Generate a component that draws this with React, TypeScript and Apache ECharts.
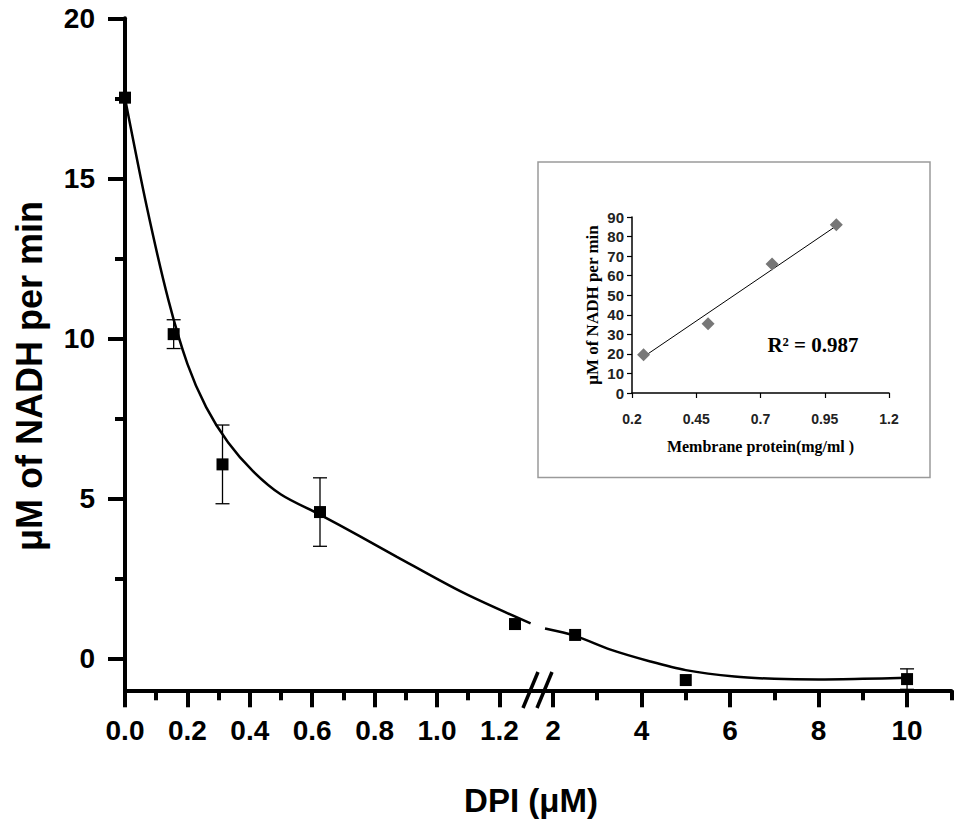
import React, { useEffect, useRef } from "react";
import * as echarts from "echarts";

// ---- Main chart data (DPI µM vs µM NADH per min) ----
const dpiLeft = [0, 0.156, 0.3125, 0.625, 1.25];
const rateLeft = [17.52, 10.13, 6.06, 4.57, 1.07];
const dpiRight = [2.5, 5, 10];
const rateRight = [0.73, -0.68, -0.65];
// error bars: [x, y, error]
const errLeft = [
  [0.156, 10.13, 0.45],
  [0.3125, 6.06, 1.23],
  [0.625, 4.57, 1.07],
];
const errRight = [[10, -0.65, 0.32]];
// fitted curve
const curveLeftX = [0, 0.07, 0.139, 0.2, 0.26, 0.33, 0.41, 0.5, 0.623, 0.752, 0.87, 1.084, 1.3];
const curveLeftY = [17.5, 14.1, 11.2, 9.2, 7.85, 6.75, 5.85, 5.12, 4.5, 3.82, 3.18, 2.05, 1.09];
const curveRightX = [1.82, 2.5, 3.3, 4.2, 5.0, 6.1, 7.0, 8.0, 9.0, 10.0];
const curveRightY = [0.93, 0.7, 0.27, -0.1, -0.37, -0.57, -0.64, -0.66, -0.64, -0.61];

// ticks
const yMajor = [0, 5, 10, 15, 20];
const yMinor = [2.5, 7.5, 12.5, 17.5];
const xLeftMajor = [0, 0.2, 0.4, 0.6, 0.8, 1.0, 1.2];
const xLeftMinor = [0.1, 0.3, 0.5, 0.7, 0.9, 1.1];
const xRightMajor = [2, 4, 6, 8, 10];
const xRightMinor = [3, 5, 7, 9, 11];

// ---- Inset data ----
const protein = [0.245, 0.496, 0.745, 0.995];
const nadhInset = [19.5, 35.4, 66, 86];
const trendX = [0.245, 0.99];
const trendY = [18.5, 85];
const insetXTicks = [0.2, 0.45, 0.7, 0.95, 1.2];

const SANS = "Liberation Sans, Arial, sans-serif";
const SERIF = "Liberation Serif, Times New Roman, serif";

export default function App() {
  const ref = useRef<HTMLDivElement>(null);
  useEffect(() => {
    if (!ref.current) return;
    const chart = echarts.init(ref.current, null, { renderer: "svg" });

    const G0 = { left: 125, top: 18.3, width: 405.6, height: 672 };
    const G1 = { left: 530.6, top: 18.3, width: 420.7, height: 672 };
    const GI = { left: 632, top: 217, width: 257, height: 176 };

    const axisLine = { show: true, onZero: false, lineStyle: { color: "#000", width: 4, cap: "round" } };
    const noLine = { show: false, onZero: false };
    const majorLabel = {
      color: "#000",
      fontFamily: SANS,
      fontWeight: "bold",
      fontSize: 28,
    };

    const errRender = (params: any, api: any) => {
      const x = api.value(0);
      const y = api.value(1);
      const e = api.value(2);
      const top = api.coord([x, y + e]);
      const bot = api.coord([x, y - e]);
      const hw = 7;
      const style = { stroke: "#000", lineWidth: 1.3 };
      return {
        type: "group",
        children: [
          { type: "line", shape: { x1: top[0], y1: top[1], x2: bot[0], y2: bot[1] }, style },
          { type: "line", shape: { x1: top[0] - hw, y1: top[1], x2: top[0] + hw, y2: top[1] }, style },
          { type: "line", shape: { x1: bot[0] - hw, y1: bot[1], x2: bot[0] + hw, y2: bot[1] }, style },
        ],
      };
    };

    const zip = (a: number[], b: number[]) => a.map((v, i) => [v, b[i]]);

    chart.setOption({
      animation: false,
      backgroundColor: "#fff",
      grid: [
        { ...G0, containLabel: false },
        { ...G1, containLabel: false },
        { ...G0, containLabel: false },
        { ...G1, containLabel: false },
        { ...GI, containLabel: false },
      ],
      xAxis: [
        {
          type: "value", gridIndex: 0, min: 0, max: 1.3, position: "bottom",
          axisLine, splitLine: { show: false },
          axisTick: { show: true, length: 17, lineStyle: { width: 4, color: "#000" }, customValues: xLeftMajor },
          axisLabel: { ...majorLabel, margin: 26, customValues: xLeftMajor, formatter: (v: number) => v.toFixed(1) },
        },
        {
          type: "value", gridIndex: 1, min: 1.494, max: 11, position: "bottom",
          axisLine, splitLine: { show: false },
          axisTick: { show: true, length: 17, lineStyle: { width: 4, color: "#000" }, customValues: xRightMajor },
          axisLabel: { ...majorLabel, margin: 26, customValues: xRightMajor, formatter: (v: number) => String(v) },
        },
        {
          type: "value", gridIndex: 2, min: 0, max: 1.3, position: "bottom",
          axisLine: noLine, splitLine: { show: false },
          axisTick: { show: true, length: 10, lineStyle: { width: 4, color: "#000" }, customValues: xLeftMinor },
          axisLabel: { show: false },
        },
        {
          type: "value", gridIndex: 3, min: 1.494, max: 11, position: "bottom",
          axisLine: noLine, splitLine: { show: false },
          axisTick: { show: true, length: 10, lineStyle: { width: 4, color: "#000" }, customValues: xRightMinor },
          axisLabel: { show: false },
        },
        {
          type: "value", gridIndex: 4, min: 0.2, max: 1.2, position: "bottom",
          axisLine: { show: true, onZero: false, lineStyle: { color: "#000", width: 1.5 } },
          splitLine: { show: false },
          axisTick: { show: true, length: 5, lineStyle: { color: "#000", width: 1.2 }, customValues: insetXTicks },
          axisLabel: {
            customValues: insetXTicks, color: "#222", fontFamily: SANS, fontWeight: "bold", fontSize: 14, margin: 19,
            formatter: (v: number) => String(v),
          },
          name: "Membrane protein(mg/ml )",
          nameLocation: "middle",
          nameGap: 45,
          nameTextStyle: { color: "#000", fontFamily: SERIF, fontWeight: "bold", fontSize: 16 },
        },
      ],
      yAxis: [
        {
          type: "value", gridIndex: 0, min: -1, max: 20, position: "left",
          axisLine, splitLine: { show: false },
          axisTick: { show: true, length: 17, lineStyle: { width: 4, color: "#000" }, customValues: yMajor },
          axisLabel: { ...majorLabel, margin: 30, customValues: yMajor },
        },
        {
          type: "value", gridIndex: 1, min: -1, max: 20, show: false,
        },
        {
          type: "value", gridIndex: 2, min: -1, max: 20, position: "left",
          axisLine: noLine, splitLine: { show: false },
          axisTick: { show: true, length: 10, lineStyle: { width: 4, color: "#000" }, customValues: yMinor },
          axisLabel: { show: false },
        },
        {
          type: "value", gridIndex: 3, min: -1, max: 20, show: false,
        },
        {
          type: "value", gridIndex: 4, min: 0, max: 90, interval: 10, position: "left",
          axisLine: { show: true, onZero: false, lineStyle: { color: "#000", width: 1.5 } },
          splitLine: { show: false },
          axisTick: { show: true, length: 5, lineStyle: { color: "#000", width: 1.2 } },
          axisLabel: { color: "#222", fontFamily: SANS, fontWeight: "bold", fontSize: 15, margin: 8 },
          name: "μM of NADH per min",
          nameLocation: "middle",
          nameGap: 31,
          nameTextStyle: { color: "#000", fontFamily: SERIF, fontWeight: "bold", fontSize: 17 },
        },
      ],
      series: [
        {
          type: "line", xAxisIndex: 0, yAxisIndex: 0, data: zip(curveLeftX, curveLeftY),
          smooth: 0.3, showSymbol: false, symbol: "none",
          lineStyle: { color: "#000", width: 2.5 }, z: 2,
        },
        {
          type: "line", xAxisIndex: 1, yAxisIndex: 1, data: zip(curveRightX, curveRightY),
          smooth: 0.3, showSymbol: false, symbol: "none",
          lineStyle: { color: "#000", width: 2.5 }, z: 2,
        },
        {
          type: "custom", xAxisIndex: 0, yAxisIndex: 0, data: errLeft, renderItem: errRender, z: 3,
        },
        {
          type: "custom", xAxisIndex: 1, yAxisIndex: 1, data: errRight, renderItem: errRender, z: 3,
        },
        {
          type: "scatter", xAxisIndex: 0, yAxisIndex: 0, data: zip(dpiLeft, rateLeft),
          symbol: "rect", symbolSize: 12, itemStyle: { color: "#000", opacity: 1 }, z: 4,
        },
        {
          type: "scatter", xAxisIndex: 1, yAxisIndex: 1, data: zip(dpiRight, rateRight),
          symbol: "rect", symbolSize: 12, itemStyle: { color: "#000", opacity: 1 }, z: 4,
        },
        {
          type: "line", xAxisIndex: 4, yAxisIndex: 4, data: zip(trendX, trendY),
          showSymbol: false, symbol: "none", lineStyle: { color: "#000", width: 1 }, z: 2,
        },
        {
          type: "scatter", xAxisIndex: 4, yAxisIndex: 4, data: zip(protein, nadhInset),
          symbol: "diamond", symbolSize: 13, itemStyle: { color: "#777777", opacity: 1 }, z: 3,
        },
      ],
      graphic: [
        {
          type: "rect", z: -1,
          shape: { x: 538, y: 162, width: 392, height: 315.5 },
          style: { fill: "#fff", stroke: "#9a9a9a", lineWidth: 1.5 },
        },
        {
          type: "line", z: 10,
          shape: { x1: 523, y1: 708, x2: 538, y2: 672 },
          style: { stroke: "#000", lineWidth: 3.5 },
        },
        {
          type: "line", z: 10,
          shape: { x1: 537, y1: 708, x2: 552, y2: 672 },
          style: { stroke: "#000", lineWidth: 3.5 },
        },
        {
          type: "text", x: 531, y: 800, z: 10,
          style: {
            text: "DPI (μM)", fontFamily: SANS, fontWeight: "bold", fontSize: 33, fill: "#000",
            align: "center", verticalAlign: "middle", textAlign: "center", textVerticalAlign: "middle",
          },
        },
        {
          type: "text", x: 29, y: 376, rotation: Math.PI / 2, z: 10,
          style: {
            text: "μM of NADH per min", fontFamily: SANS, fontWeight: "bold", fontSize: 36, fill: "#000",
            align: "center", verticalAlign: "middle", textAlign: "center", textVerticalAlign: "middle",
          },
        },
        {
          type: "text", x: 813, y: 345, z: 10,
          style: {
            text: "R² = 0.987", fontFamily: SERIF, fontWeight: "bold", fontSize: 21, fill: "#000",
            align: "center", verticalAlign: "middle", textAlign: "center", textVerticalAlign: "middle",
          },
        },
      ],
    });
    return () => chart.dispose();
  }, []);
  return (
    <div
      ref={ref}
      style={{ position: "fixed", left: 0, top: 0, width: 960, height: 821, background: "#fff" }}
    />
  );
}
